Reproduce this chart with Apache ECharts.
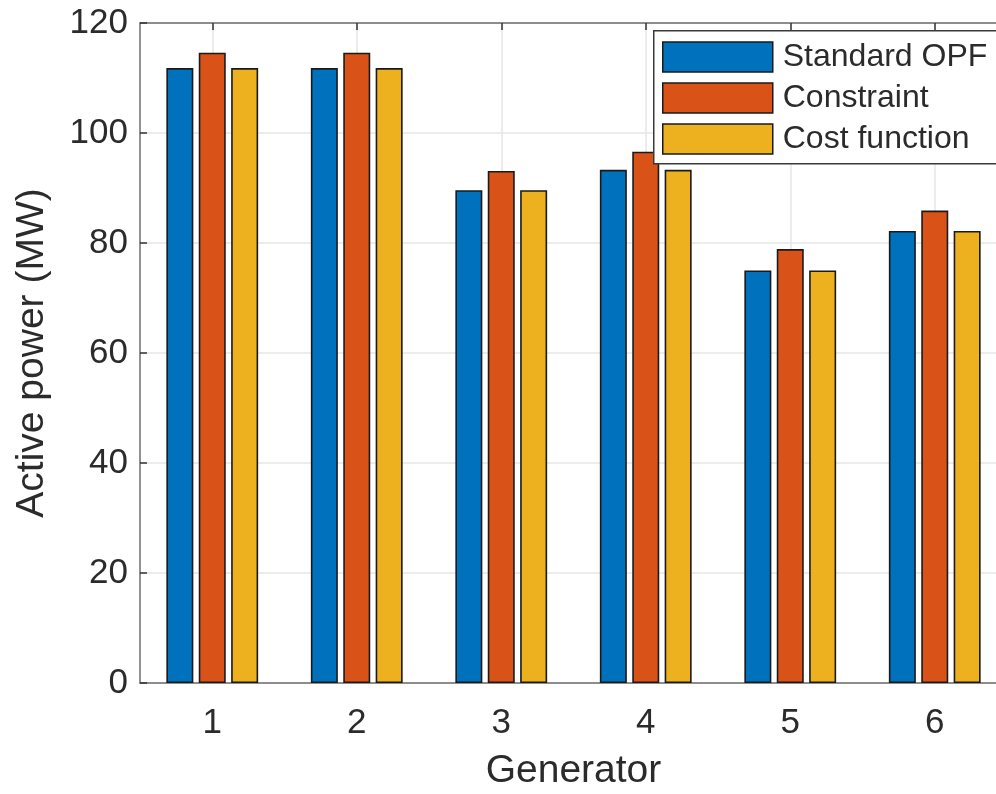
<!DOCTYPE html>
<html>
<head>
<meta charset="utf-8">
<title>Active power per generator</title>
<script src="https://cdn.jsdelivr.net/npm/echarts@6/dist/echarts.min.js"></script>
<style>
  html, body { margin: 0; padding: 0; background: #ffffff; }
  #chart { width: 996px; height: 794px; }
</style>
</head>
<body>
<div id="chart"></div>
<script>
// Generator indices on the horizontal axis
const generators = ['1', '2', '3', '4', '5', '6'];

// Active power dispatch (MW) per generator for each method
const standardOPF  = [111.8, 111.8, 89.6, 93.3, 75.0, 82.2];
const constraint   = [114.6, 114.6, 93.1, 96.6, 78.9, 85.9];
const costFunction = [111.8, 111.8, 89.6, 93.3, 75.0, 82.2];

// Vertical axis ticks
const yTicks = [0, 20, 40, 60, 80, 100, 120];

const seriesNames = ['Standard OPF', 'Constraint', 'Cost function'];
const seriesColors = ['#0072BD', '#D95319', '#EDB120'];
const seriesData = [standardOPF, constraint, costFunction];

const FONT = "'Liberation Sans', Arial, Helvetica, sans-serif";
const TEXT = '#2b2b2b';
const AXIS = '#6e6e6e';
const GRID = '#e6e6e6';

const chart = echarts.init(document.getElementById('chart'), null, { renderer: 'canvas' });

const option = {
  backgroundColor: '#ffffff',
  animation: false,
  textStyle: { fontFamily: FONT, color: TEXT },
  grid: {
    left: 140,
    right: -11,
    top: 23,
    bottom: 111,
    outerBoundsMode: 'none',
    containLabel: false
  },
  // Legend frame; it runs past the right edge together with the axes box
  graphic: [{
    type: 'rect',
    left: 653,
    top: 30,
    z: 9,
    shape: { width: 400, height: 133 },
    style: { fill: '#ffffff', stroke: '#3a3a3a', lineWidth: 1.5 }
  }],
  legend: {
    orient: 'vertical',
    left: 653,
    top: 30,
    data: seriesNames,
    icon: 'rect',
    itemWidth: 110,
    itemHeight: 30,
    itemGap: 9,
    padding: [11, 10, 9, 9],
    backgroundColor: 'transparent',
    borderWidth: 0,
    itemStyle: { borderColor: '#1a1a1a', borderWidth: 1.5 },
    textStyle: {
      fontFamily: FONT,
      fontSize: 32,
      color: TEXT,
      lineHeight: 30,
      padding: [0, 0, 0, 5]
    },
    z: 10
  },
  xAxis: [
    {
      type: 'category',
      position: 'bottom',
      data: generators,
      name: 'Generator',
      nameLocation: 'middle',
      nameGap: 69,
      nameTextStyle: { fontFamily: FONT, fontSize: 39, color: TEXT },
      axisLine: { show: true, lineStyle: { color: AXIS, width: 1.5 } },
      axisTick: { show: true, inside: true, length: 7, alignWithLabel: true, lineStyle: { color: '#333', width: 1.5 } },
      axisLabel: { fontFamily: FONT, fontSize: 35, color: TEXT, margin: 23 },
      splitLine: { show: true, alignWithLabel: true, lineStyle: { color: GRID, width: 1.5 } }
    },
    {
      type: 'category',
      position: 'top',
      data: generators,
      axisLine: { show: true, lineStyle: { color: AXIS, width: 1.5 } },
      axisTick: { show: true, inside: true, length: 7, alignWithLabel: true, lineStyle: { color: '#333', width: 1.5 } },
      axisLabel: { show: false },
      splitLine: { show: false }
    }
  ],
  yAxis: {
    type: 'value',
    min: yTicks[0],
    max: yTicks[yTicks.length - 1],
    interval: yTicks[1] - yTicks[0],
    name: 'Active power (MW)',
    nameLocation: 'middle',
    nameGap: 88,
    nameTextStyle: { fontFamily: FONT, fontSize: 39, color: TEXT },
    axisLine: { show: true, lineStyle: { color: AXIS, width: 1.5 } },
    axisTick: { show: true, inside: true, length: 7, lineStyle: { color: '#333', width: 1.5 } },
    axisLabel: { fontFamily: FONT, fontSize: 35, color: TEXT, margin: 12 },
    splitLine: { show: true, lineStyle: { color: GRID, width: 1.5 } }
  },
  series: seriesNames.map((name, i) => ({
    name: name,
    type: 'bar',
    xAxisIndex: 0,
    data: seriesData[i],
    barWidth: 27,
    barGap: '20%',
    itemStyle: {
      color: seriesColors[i],
      borderColor: '#1a1a1a',
      borderWidth: 1.6
    },
    emphasis: { disabled: true }
  }))
};

chart.setOption(option);
</script>
</body>
</html>
